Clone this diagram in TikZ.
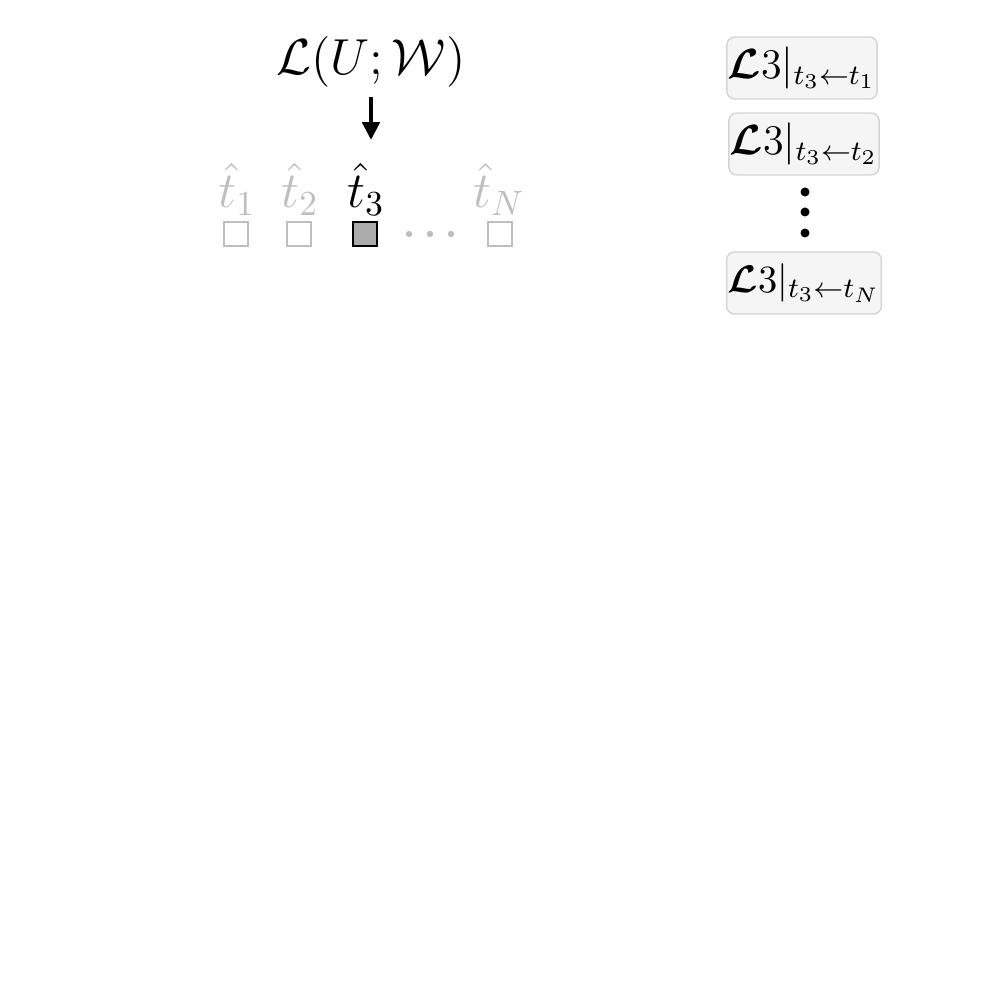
\documentclass[tikz,border=0pt]{standalone}
\usepackage{amsmath}
\usepackage{amssymb}
\usepackage{bm}
\usepackage{tikz}
\usepackage{xcolor}
\usetikzlibrary{arrows.meta}

\definecolor{faded}{RGB}{190,190,190}
\definecolor{boxfill}{RGB}{245,245,245}
\definecolor{boxline}{RGB}{212,212,212}

\tikzset{
  tok/.style={draw=faded, line width=0.6pt, minimum size=0.24cm, inner sep=0pt},
  hattok/.style={text=faded, anchor=base, inner sep=0pt, font=\fontsize{14.4}{17}\selectfont},
  swapbox/.style={draw=boxline, fill=boxfill, rounded corners=0.08cm, minimum width=1.46cm,
    minimum height=0.62cm, inner sep=0.3pt, font=\fontsize{12}{14}\selectfont},
  arr/.style={line width=0.9pt, -{Triangle[length=5pt,width=5pt]}}
}

\begin{document}
\begin{tikzpicture}[x=0.01cm,y=-0.01cm]
\useasboundingbox (0,0) rectangle (1000,1001);

% loss and the token being swapped
\node[font=\fontsize{14.4}{17}\selectfont, inner sep=0pt] (loss) at (371,62) {$\mathcal{L}(U;\mathcal{W})$};

\node[hattok] (hat1) at (237,208) {$\hat{t}_1$};
\node[hattok] (hat2) at (300,208) {$\hat{t}_2$};
\node[hattok, text=black] (hat3) at (366,208) {$\hat{t}_3$};
\node[hattok] (hatN) at (499,208) {$\hat{t}_N$};

\node[tok] (tok1) at (236,234) {};
\node[tok] (tok2) at (299,234) {};
\node[tok, draw=black, line width=0.8pt, fill=faded!90!black] (tok3) at (365,234) {};
\node[tok] (tokN) at (500,234) {};
\foreach \x in {409,430,451}
  \fill[faded] (\x,234) circle (0.032cm);

\draw[arr, shorten <=0.09cm, shorten >=0.23cm] (loss.south) -- (loss.south |- hat3.north);

% loss with t_3 replaced
\node[swapbox] (sw1) at (802,68) {$\bm{\mathcal{L}}3|_{t_3\leftarrow t_1}$};
\node[swapbox] (sw2) at (804,144) {$\bm{\mathcal{L}}3|_{t_3\leftarrow t_2}$};
\node[swapbox, font=\fontsize{11.2}{14}\selectfont] (swN) at (804,283) {$\bm{\mathcal{L}}3|_{t_3\leftarrow t_N}$};
\foreach \y in {192,212,233}
  \fill (805,\y) circle (0.045cm);
\end{tikzpicture}
\end{document}
